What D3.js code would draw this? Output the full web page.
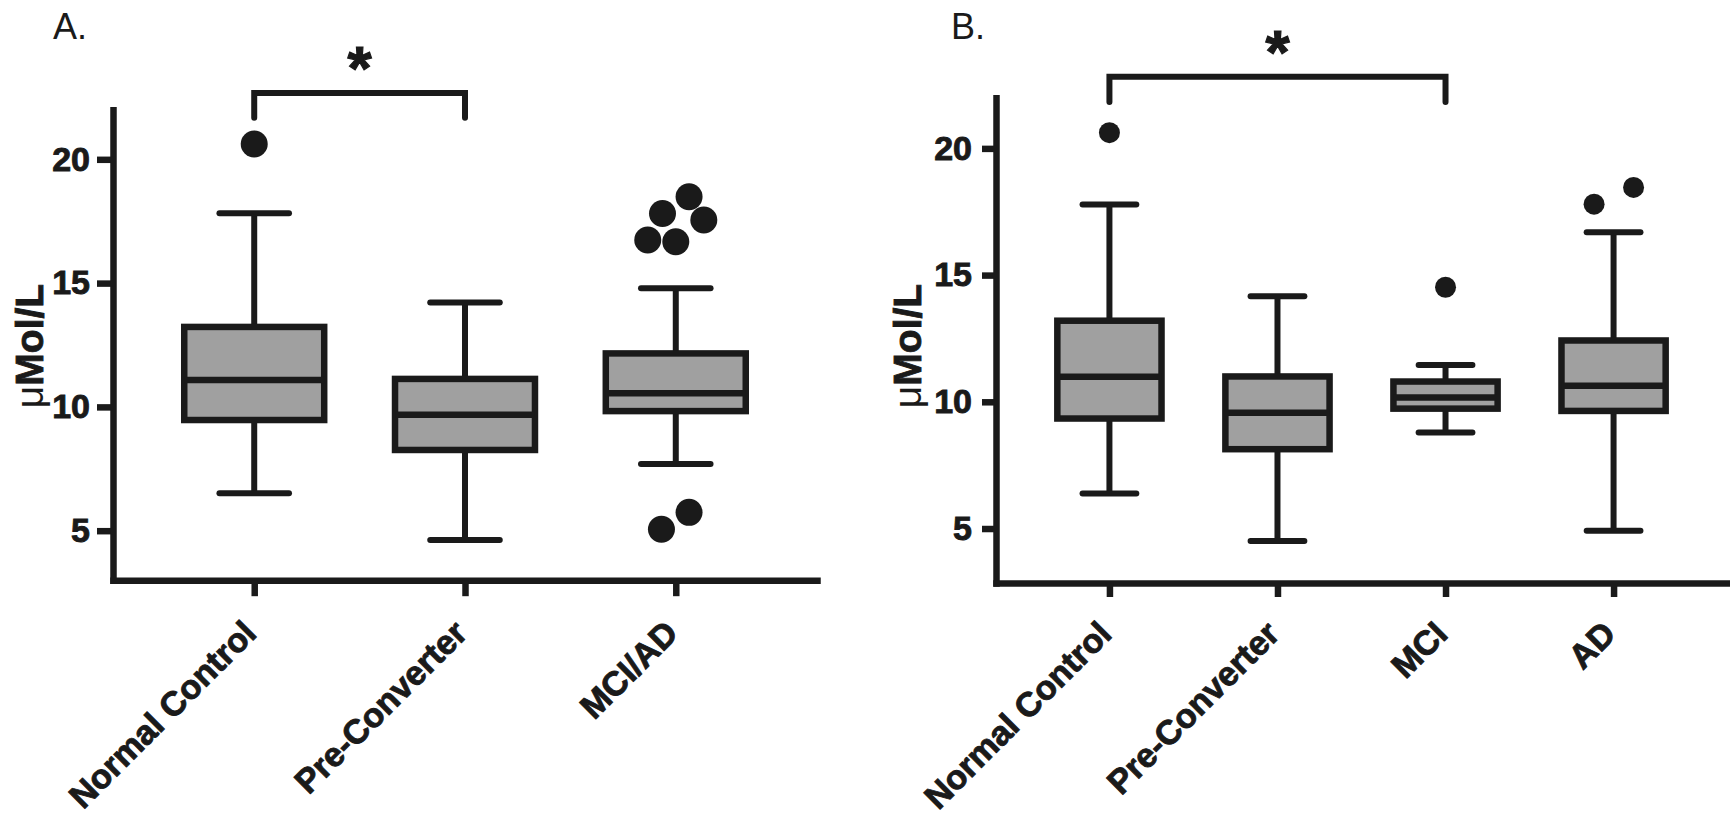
<!DOCTYPE html>
<html>
<head>
<meta charset="utf-8">
<script src="https://cdn.jsdelivr.net/npm/d3@7"></script>
<style>
  html, body { margin: 0; padding: 0; background: #ffffff; }
  svg { display: block; }
  text { font-family: "Liberation Sans", Arial, Helvetica, sans-serif; fill: #1a1a1a; }
</style>
</head>
<body>
<svg id="chart" width="1730" height="822"></svg>
<script>
// ---------------- DATA ----------------
const yTicks = [5, 10, 15, 20];

// Panel A
const panelA_title = "A.";
const panelA_categories = ["Normal Control", "Pre-Converter", "MCI/AD"];
const panelA_whiskerLow = [6.51, 4.62, 7.69];
const panelA_q1 = [9.47, 8.26, 9.83];
const panelA_median = [11.09, 9.68, 10.55];
const panelA_q3 = [13.23, 11.13, 12.16];
const panelA_whiskerHigh = [17.82, 14.22, 14.79];
const panelA_outliers = [[20.62], [], [18.49, 17.81, 17.55, 16.74, 16.67, 5.74, 5.06]];
const panelA_outlierJitter = [[0], [], [0.063, -0.063, 0.133, -0.133, 0, 0.063, -0.068]];
const panelA_sig = { from: "Normal Control", to: "Pre-Converter", y: 22.68, drop: 1.0, label: "*" };

// Panel B
const panelB_title = "B.";
const panelB_categories = ["Normal Control", "Pre-Converter", "MCI", "AD"];
const panelB_whiskerLow = [6.38, 4.51, 8.79, 4.91];
const panelB_q1 = [9.34, 8.13, 9.73, 9.64];
const panelB_median = [10.99, 9.57, 10.17, 10.63];
const panelB_q3 = [13.2, 11.0, 10.8, 12.42];
const panelB_whiskerHigh = [17.79, 14.17, 11.45, 16.69];
const panelB_outliers = [[20.62], [], [14.52], [17.80, 18.46]];
const panelB_outlierJitter = [[0], [], [0], [-0.116, 0.119]];
const panelB_sig = { from: "Normal Control", to: "MCI", y: 22.83, drop: 1.0, label: "*" };

const yLabel = "Mol/L";
const yLabelPrefix = "\u03BC";

// ---------------- DRAW ----------------
const svg = d3.select("#chart");
const INK = "#1a1a1a";
const FILL = "#a0a0a0";
const HEAVY = 0.9; // extra outline to mimic the heavy bold face

function drawPanel(cfg) {
  const g = svg.append("g");
  const x = d3.scalePoint().domain(cfg.categories).range(cfg.xRange).padding(cfg.pad);
  const y = d3.scaleLinear().domain(cfg.yDomain).range(cfg.yRange);
  const step = x.step();
  const boxW = step * cfg.boxFrac;
  const capW = step * cfg.capFrac;

  const rows = cfg.categories.map((c, i) => ({
    cat: c, lo: cfg.lo[i], q1: cfg.q1[i], med: cfg.med[i], q3: cfg.q3[i], hi: cfg.hi[i],
    out: cfg.out[i].map((v, j) => ({ v, j: cfg.jit[i][j] }))
  }));

  // axes
  const yAxis = d3.axisLeft(y).tickValues(yTicks).tickSize(cfg.tickLen).tickSizeOuter(0).tickPadding(cfg.tickPad);
  const ya = g.append("g").attr("transform", `translate(${cfg.xRange[0]},0)`).call(yAxis);
  const xAxis = d3.axisBottom(x).tickSize(cfg.tickLen).tickSizeOuter(0).tickFormat("");
  const xa = g.append("g").attr("transform", `translate(0,${cfg.yRange[0]})`).call(xAxis);
  [ya, xa].forEach(a => {
    a.select(".domain").attr("stroke", INK).attr("stroke-width", cfg.axisW).attr("stroke-linecap", "square");
    a.selectAll(".tick line").attr("stroke", INK).attr("stroke-width", cfg.axisW);
  });
  ya.selectAll(".tick text")
    .attr("font-size", cfg.tickFont).attr("font-weight", "bold")
    .attr("font-family", "Liberation Sans, Arial, sans-serif").attr("fill", INK)
    .attr("stroke", INK).attr("stroke-width", HEAVY);

  // category labels, rotated
  g.selectAll(".catlabel").data(cfg.categories).enter().append("text")
    .attr("class", "catlabel")
    .attr("transform", d => `translate(${x(d) + cfg.labDx},${cfg.yRange[0] + cfg.labDy}) rotate(-45)`)
    .attr("text-anchor", "end")
    .attr("font-size", cfg.catFont).attr("font-weight", "bold")
    .attr("stroke", INK).attr("stroke-width", HEAVY)
    .text(d => d);

  // whiskers
  const bx = g.selectAll(".box").data(rows).enter().append("g").attr("class", "box");
  bx.append("line")
    .attr("x1", d => x(d.cat)).attr("x2", d => x(d.cat))
    .attr("y1", d => y(d.hi)).attr("y2", d => y(d.lo))
    .attr("stroke", INK).attr("stroke-width", cfg.lineW);
  ["hi", "lo"].forEach(k => {
    bx.append("line")
      .attr("x1", d => x(d.cat) - capW / 2).attr("x2", d => x(d.cat) + capW / 2)
      .attr("y1", d => y(d[k])).attr("y2", d => y(d[k]))
      .attr("stroke", INK).attr("stroke-width", cfg.lineW).attr("stroke-linecap", "round");
  });
  bx.append("rect")
    .attr("x", d => x(d.cat) - boxW / 2).attr("width", boxW)
    .attr("y", d => y(d.q3)).attr("height", d => y(d.q1) - y(d.q3))
    .attr("fill", FILL).attr("stroke", INK).attr("stroke-width", cfg.boxStroke);
  bx.append("line")
    .attr("x1", d => x(d.cat) - boxW / 2).attr("x2", d => x(d.cat) + boxW / 2)
    .attr("y1", d => y(d.med)).attr("y2", d => y(d.med))
    .attr("stroke", INK).attr("stroke-width", cfg.boxStroke);
  bx.selectAll("circle").data(d => d.out.map(o => ({ cat: d.cat, v: o.v, j: o.j }))).enter().append("circle")
    .attr("cx", d => x(d.cat) + d.j * step).attr("cy", d => y(d.v)).attr("r", cfg.dotR)
    .attr("fill", INK);

  // significance bracket
  const s = cfg.sig;
  const x1 = x(s.from), x2 = x(s.to), yb = y(s.y), yt = y(s.y - s.drop);
  g.append("path")
    .attr("d", `M${x1},${yt} L${x1},${yb} L${x2},${yb} L${x2},${yt}`)
    .attr("fill", "none").attr("stroke", INK).attr("stroke-width", cfg.lineW)
    .attr("stroke-linecap", "round").attr("stroke-linejoin", "miter");
  g.append("text")
    .attr("x", (x1 + x2) / 2).attr("y", yb + cfg.starDy)
    .attr("text-anchor", "middle").attr("font-size", cfg.starFont).attr("font-weight", "bold")
    .attr("stroke", INK).attr("stroke-width", 1.2)
    .text(s.label);

  // y label
  const yl = g.append("text")
    .attr("transform", `translate(${cfg.yLabX},${cfg.yLabY}) rotate(-90)`)
    .attr("text-anchor", "middle").attr("font-size", cfg.yLabFont).attr("font-weight", "bold");
  yl.append("tspan").attr("font-weight", "normal").text(yLabelPrefix);
  yl.append("tspan").attr("stroke", INK).attr("stroke-width", HEAVY).text(yLabel);

  // title
  g.append("text").attr("x", cfg.titleX).attr("y", cfg.titleY)
    .attr("font-size", cfg.titleFont).attr("font-weight", "normal").text(cfg.title);
}

drawPanel({
  title: panelA_title, categories: panelA_categories,
  lo: panelA_whiskerLow, q1: panelA_q1, med: panelA_median, q3: panelA_q3, hi: panelA_whiskerHigh,
  out: panelA_outliers, jit: panelA_outlierJitter, sig: panelA_sig,
  xRange: [113, 817], pad: 0.67, yDomain: [3, 22], yRange: [580.2, 109.8],
  boxFrac: 0.664, capFrac: 0.33, lineW: 6, boxStroke: 6.5, axisW: 6.5, dotR: 13.5,
  tickLen: 16, tickPad: 7, tickFont: 34, catFont: 34, labDx: 4, labDy: 55,
  starFont: 62, starDy: -4, yLabX: 43, yLabY: 346, yLabFont: 39,
  titleX: 53, titleY: 38.5, titleFont: 36
});

drawPanel({
  title: panelB_title, categories: panelB_categories,
  lo: panelB_whiskerLow, q1: panelB_q1, med: panelB_median, q3: panelB_q3, hi: panelB_whiskerHigh,
  out: panelB_outliers, jit: panelB_outlierJitter, sig: panelB_sig,
  xRange: [996, 1727], pad: 0.675, yDomain: [2.85, 22], yRange: [583, 97.7],
  boxFrac: 0.62, capFrac: 0.32, lineW: 6, boxStroke: 6.5, axisW: 6.5, dotR: 10.5,
  tickLen: 14, tickPad: 10, tickFont: 34, catFont: 34, labDx: 4, labDy: 53,
  starFont: 62, starDy: -4, yLabX: 921, yLabY: 346, yLabFont: 39,
  titleX: 951, titleY: 38.5, titleFont: 36
});
</script>
</body>
</html>
